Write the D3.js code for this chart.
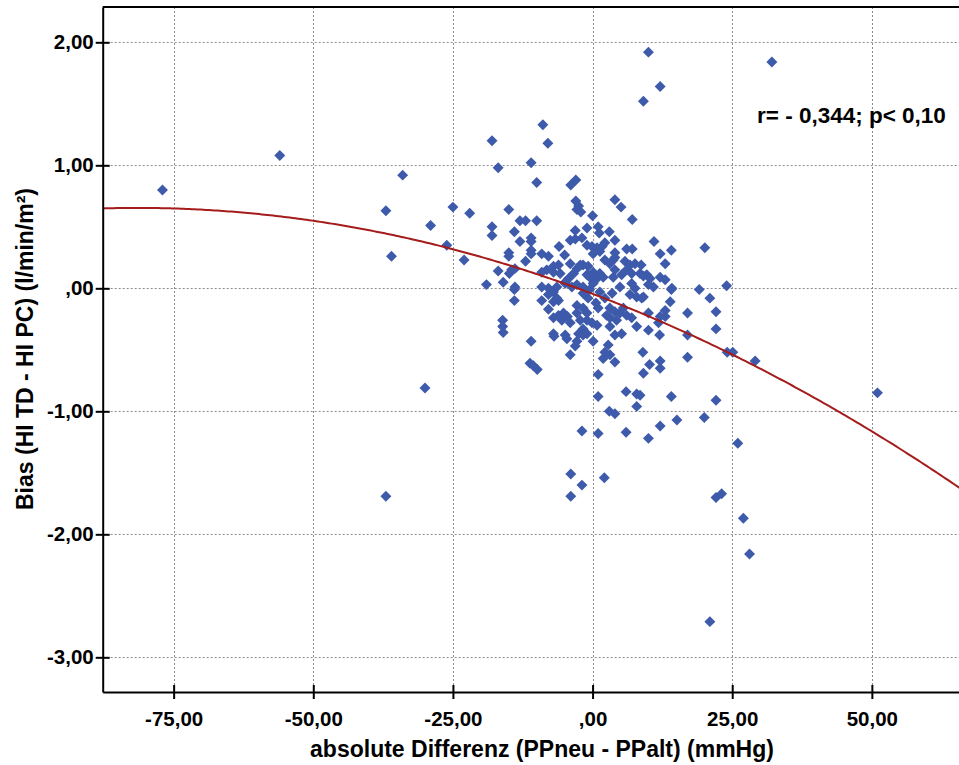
<!DOCTYPE html>
<html><head><meta charset="utf-8">
<script src="https://cdn.jsdelivr.net/npm/d3@7"></script>
<style>
body{margin:0;background:#fff}
svg{display:block}
text{font-family:"Liberation Sans",Arial,sans-serif;font-weight:bold;fill:#000}
</style>
</head><body>
<svg id="chart" width="959" height="765"></svg>
<script>
// Pulse-pressure difference (mmHg) per measurement
const diffValues = [
 -77.0,-56.0,-37.0,-36.0,-34.0,-37.0,-30.0,-29.0,-26.1,-25.0,-23.0,-22.0,-19.0,-18.0,-16.9,-18.0,-18.0,-16.9,-16.0,-16.1,
 -16.1,-16.0,-15.0,-15.0,-15.0,-14.9,-14.5,-13.9,-14.0,-13.9,-14.0,-14.0,-13.0,-12.0,-13.0,-12.0,-11.0,-11.0,-11.0,-11.0,
 -11.0,-10.0,-10.0,-8.9,-8.0,-9.1,-7.9,-6.0,-5.0,-4.0,-3.1,-1.9,-3.9,-3.0,-3.0,-2.5,-2.8,-2.1,-3.1,-4.0,
 -4.9,-4.3,-8.2,-7.0,-6.1,-7.0,-5.8,-9.1,-9.1,-7.9,-7.0,-6.4,-4.9,-3.7,-2.8,-3.4,-2.8,-1.7,-0.8,-1.7,
 -0.5,0.1,-1.0,0.0,1.0,1.2,3.0,4.0,5.1,7.1,4.0,-1.0,-0.1,0.8,1.7,2.2,0.1,1.3,6.1,7.1,
 4.0,4.0,-2.2,2.2,3.1,3.7,5.8,6.7,7.6,8.5,9.7,10.3,12.1,13.0,0.1,1.3,0.8,1.9,-0.5,-1.0,
 4.9,7.0,7.6,14.2,10.9,3.7,4.0,5.2,6.1,7.0,10.0,12.1,9.1,32.1,11.0,12.1,14.1,20.1,13.0,8.7,
 9.1,10.0,14.1,19.1,21.0,24.0,9.1,-9.1,-7.9,-7.0,-6.1,-7.9,-6.4,-7.0,-6.1,-5.2,-4.5,-5.5,-4.0,-7.0,
 -6.9,-4.9,-4.6,-2.8,-3.1,-4.0,-11.0,-11.2,-10.6,-9.9,-2.8,-2.8,-1.7,-1.0,-2.2,-1.0,-0.1,0.8,-1.7,-2.5,
 -1.7,-1.0,0.1,1.0,2.5,3.1,4.0,4.9,5.5,6.1,3.1,4.3,3.1,4.0,5.2,7.0,7.9,2.8,2.2,3.1,
 1.9,4.0,1.0,1.0,6.0,7.9,7.9,3.0,4.0,-1.9,1.0,6.0,-3.9,-1.9,-3.9,2.1,6.7,7.9,8.8,13.9,
 10.0,12.1,13.0,11.8,13.0,17.0,22.1,10.0,12.0,17.0,22.1,24.1,25.1,29.1,9.0,10.2,9.1,12.1,12.1,17.0,
 8.5,14.1,22.1,20.0,15.1,12.1,10.0,26.0,22.1,23.1,27.0,28.1,21.0,51.0,1.3,2.2,3.5,0.6,-0.8,-1.7
];
// Bias HI TD - HI PC (l/min/m²) per measurement
const biasValues = [
 0.80,1.08,0.63,0.26,0.92,-1.69,-0.81,0.51,0.35,0.66,0.23,0.61,0.03,1.20,0.98,0.50,0.43,0.14,0.05,-0.26,
 -0.31,-0.36,0.64,0.29,0.26,0.12,0.15,0.16,0.46,0.01,-0.01,-0.10,0.55,0.55,0.38,0.22,1.02,0.41,0.38,0.31,
 0.28,0.86,0.55,1.33,1.18,0.28,0.26,0.34,0.27,0.39,0.40,0.41,0.84,0.88,0.71,0.67,0.64,0.62,0.47,0.20,
 0.05,0.08,0.15,0.18,0.19,0.13,0.12,0.13,0.01,0.00,-0.03,0.01,0.04,0.01,0.16,0.12,0.03,0.19,0.18,0.01,
 -0.01,0.04,0.49,0.59,0.50,0.45,0.46,0.72,0.66,0.56,0.39,0.35,0.34,0.33,0.34,0.37,0.28,0.30,0.32,0.32,
 0.25,0.29,0.19,0.23,0.20,0.23,0.22,0.19,0.20,0.12,0.11,0.08,0.09,0.07,0.13,0.12,0.08,0.09,0.09,0.11,
 0.01,0.04,0.00,0.00,0.01,0.09,0.15,0.11,0.15,0.12,1.92,1.64,1.52,1.84,0.38,0.28,0.31,0.33,0.20,0.19,
 0.10,0.03,-0.01,-0.01,-0.08,0.02,-0.07,-0.10,-0.17,-0.11,-0.10,-0.05,-0.08,-0.24,-0.22,-0.20,-0.23,-0.26,-0.28,-0.37,
 -0.39,-0.38,-0.41,-0.43,-0.47,-0.54,-0.43,-0.61,-0.63,-0.66,-0.14,-0.20,-0.16,-0.20,-0.26,-0.26,-0.28,-0.30,-0.33,-0.37,
 -0.38,-0.37,-0.43,-0.16,-0.22,-0.16,-0.19,-0.20,-0.16,-0.22,-0.24,-0.26,-0.31,-0.38,-0.37,-0.24,-0.31,-0.46,-0.52,-0.54,
 -0.57,-0.60,-0.70,-0.88,-0.84,-0.86,-0.96,-1.00,-1.02,-1.16,-1.18,-1.17,-1.51,-1.60,-1.69,-1.54,-0.05,-0.07,-0.08,-0.11,
 -0.20,-0.23,-0.18,-0.28,-0.23,-0.20,-0.19,-0.34,-0.38,-0.38,-0.33,-0.52,-0.52,-0.59,-0.52,-0.62,-0.69,-0.59,-0.65,-0.56,
 -0.87,-0.88,-0.91,-1.05,-1.07,-1.12,-1.22,-1.26,-1.70,-1.67,-1.87,-2.16,-2.71,-0.85,-0.03,-0.08,-0.04,-0.12,-0.08,-0.04
];
const xTicks = [-75, -50, -25, 0, 25, 50];
const xTickLabels = ["-75,00", "-50,00", "-25,00", ",00", "25,00", "50,00"];
const yTicks = [2, 1, 0, -1, -2, -3];
const yTickLabels = ["2,00", "1,00", ",00", "-1,00", "-2,00", "-3,00"];
// quadratic fit: bias = c0 + c1*x + c2*x^2
const fitCoefficients = [-0.0449, -0.01712, -0.0001049];
const xTitle = "absolute Differenz (PPneu - PPalt) (mmHg)";
const yTitle = "Bias (HI TD - HI PC) (l/min/m²)";
const statsNote = "r= - 0,344; p< 0,10";

const svg = d3.select("#chart");
const box = {left: 102.7, right: 959, top: 7, bottom: 692};

const x = d3.scaleLinear().domain([-87.7, 65.6]).range([box.left, box.right]);
const y = d3.scaleLinear().domain([-3.282, 2.287]).range([box.bottom, box.top]);

svg.append("defs").append("clipPath").attr("id", "plotClip")
  .append("rect").attr("x", box.left).attr("y", box.top)
  .attr("width", box.right - box.left).attr("height", box.bottom - box.top);

// dashed grid
const grid = svg.append("g").attr("stroke", "#8c8c8c").attr("stroke-width", 1)
  .attr("stroke-dasharray", "2,2");
grid.selectAll(".gx").data(xTicks).join("line")
  .attr("x1", d => Math.round(x(d)) + 0.5).attr("x2", d => Math.round(x(d)) + 0.5)
  .attr("y1", box.top).attr("y2", box.bottom);
grid.selectAll(".gy").data(yTicks).join("line")
  .attr("y1", d => Math.round(y(d)) + 0.5).attr("y2", d => Math.round(y(d)) + 0.5)
  .attr("x1", box.left).attr("x2", box.right);

// top frame line
svg.append("line").attr("x1", box.left).attr("x2", box.right)
  .attr("y1", box.top).attr("y2", box.top)
  .attr("stroke", "#000").attr("stroke-width", 2);

// scatter points
const pts = diffValues.map((d, i) => ({x: d, y: biasValues[i]}));
const diamond = d3.symbol().type(d3.symbolSquare).size(60);
svg.append("g").attr("clip-path", "url(#plotClip)")
  .selectAll("path").data(pts).join("path")
  .attr("d", diamond)
  .attr("transform", d => `translate(${x(d.x)},${y(d.y)}) rotate(45)`)
  .attr("fill", "#3d5aab");

// fit curve
const fitX = d3.range(x.domain()[0], x.domain()[1] + 0.5, 0.5);
const fit = v => fitCoefficients[0] + fitCoefficients[1] * v + fitCoefficients[2] * v * v;
svg.append("path").datum(fitX)
  .attr("clip-path", "url(#plotClip)")
  .attr("d", d3.line().x(d => x(d)).y(d => y(fit(d))))
  .attr("fill", "none").attr("stroke", "#a51c1c").attr("stroke-width", 2);

// axes
const xAxis = svg.append("g").attr("transform", `translate(0,${box.bottom})`)
  .call(d3.axisBottom(x).tickValues(xTicks).tickFormat((d, i) => xTickLabels[i])
    .tickSizeInner(7).tickSizeOuter(0).tickPadding(12));
const yAxis = svg.append("g").attr("transform", `translate(${box.left},0)`)
  .call(d3.axisLeft(y).tickValues(yTicks).tickFormat((d, i) => yTickLabels[i])
    .tickSizeInner(7).tickSizeOuter(0).tickPadding(2));
[xAxis, yAxis].forEach(a => {
  a.select(".domain").attr("stroke", "#000").attr("stroke-width", 2);
  a.selectAll(".tick line").attr("stroke", "#000").attr("stroke-width", 2);
  a.selectAll(".tick text").attr("font-size", 20.5).attr("font-family", null).attr("fill", "#000");
});
xAxis.selectAll(".tick line").attr("y1", -7);
yAxis.selectAll(".tick line").attr("x1", 7);

// titles
svg.append("text").attr("x", 542).attr("y", 757).attr("text-anchor", "middle")
  .attr("font-size", 23).text(xTitle);
svg.append("text").attr("transform", "translate(33,349) rotate(-90)")
  .attr("text-anchor", "middle").attr("font-size", 23).text(yTitle);
svg.append("text").attr("x", 757).attr("y", 123).attr("font-size", 22.5).text(statsNote);
</script>
</body></html>
